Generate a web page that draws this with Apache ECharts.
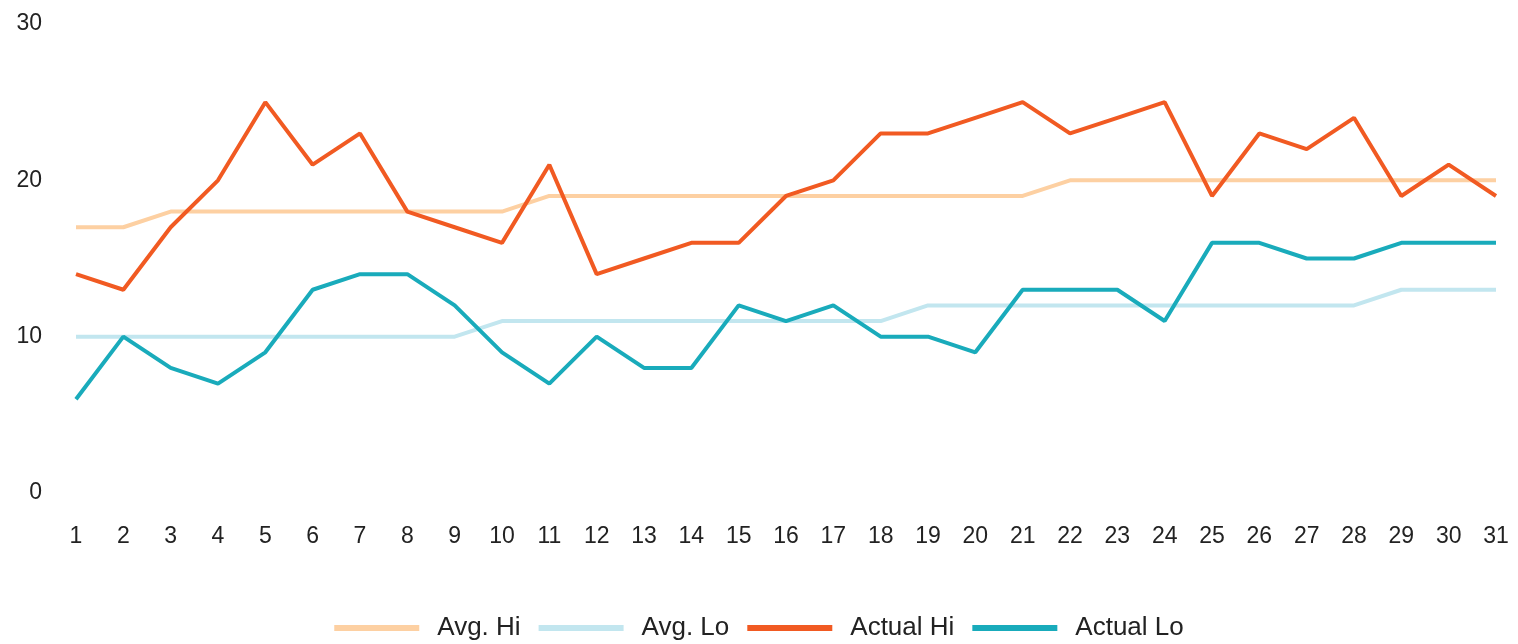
<!DOCTYPE html>
<html>
<head>
<meta charset="utf-8">
<script src="https://cdn.jsdelivr.net/npm/echarts@6/dist/echarts.min.js"></script>
<style>
  html, body { margin: 0; padding: 0; background: #fff; }
  #chart { width: 1518px; height: 644px; }
</style>
</head>
<body>
<div id="chart"></div>
<script>
// days of the month
const days = Array.from({ length: 31 }, (_, i) => String(i + 1));

const avgHi = [17, 17, 18, 18, 18, 18, 18, 18, 18, 18, 19, 19, 19, 19, 19, 19, 19, 19, 19, 19, 19, 20, 20, 20, 20, 20, 20, 20, 20, 20, 20];
const avgLo = [10, 10, 10, 10, 10, 10, 10, 10, 10, 11, 11, 11, 11, 11, 11, 11, 11, 11, 12, 12, 12, 12, 12, 12, 12, 12, 12, 12, 13, 13, 13];
const actualHi = [14, 13, 17, 20, 25, 21, 23, 18, 17, 16, 21, 14, 15, 16, 16, 19, 20, 23, 23, 24, 25, 23, 24, 25, 19, 23, 22, 24, 19, 21, 19];
const actualLo = [6, 10, 8, 7, 9, 13, 14, 14, 12, 9, 7, 10, 8, 8, 12, 11, 12, 10, 10, 9, 13, 13, 13, 11, 16, 16, 15, 15, 16, 16, 16];

const colors = ['#fdd0a2', '#c2e6ef', '#f15a22', '#19abbb'];

const mkSeries = (name, data, i) => ({
  name: name,
  type: 'line',
  data: data,
  symbol: 'none',
  lineStyle: { width: 4, color: colors[i] },
  itemStyle: { color: colors[i] },
  z: i + 1
});

const chart = echarts.init(document.getElementById('chart'));
chart.setOption({
  animation: false,
  textStyle: { fontFamily: 'Liberation Sans, Arial, sans-serif' },
  grid: { left: 76, right: 22, top: 24, bottom: 151, containLabel: false },
  legend: {
    bottom: -2,
    left: 'center',
    itemWidth: 85,
    itemHeight: 6,
    itemGap: 18,
    icon: 'rect',
    textStyle: { fontSize: 26, color: '#222', padding: [0, 0, 0, 13] },
    data: ['Avg. Hi', 'Avg. Lo', 'Actual Hi', 'Actual Lo']
  },
  xAxis: {
    type: 'category',
    boundaryGap: false,
    data: days,
    axisLine: { show: false },
    axisTick: { show: false },
    axisLabel: { margin: 32, fontSize: 23, color: '#222', interval: 0 }
  },
  yAxis: {
    type: 'value',
    min: 0,
    max: 30,
    interval: 10,
    splitLine: { show: false },
    axisLine: { show: false },
    axisTick: { show: false },
    axisLabel: { margin: 34, fontSize: 23, color: '#222', padding: [6, 0, 0, 0] }
  },
  series: [
    mkSeries('Avg. Hi', avgHi, 0),
    mkSeries('Avg. Lo', avgLo, 1),
    mkSeries('Actual Hi', actualHi, 2),
    mkSeries('Actual Lo', actualLo, 3)
  ]
});
</script>
</body>
</html>
